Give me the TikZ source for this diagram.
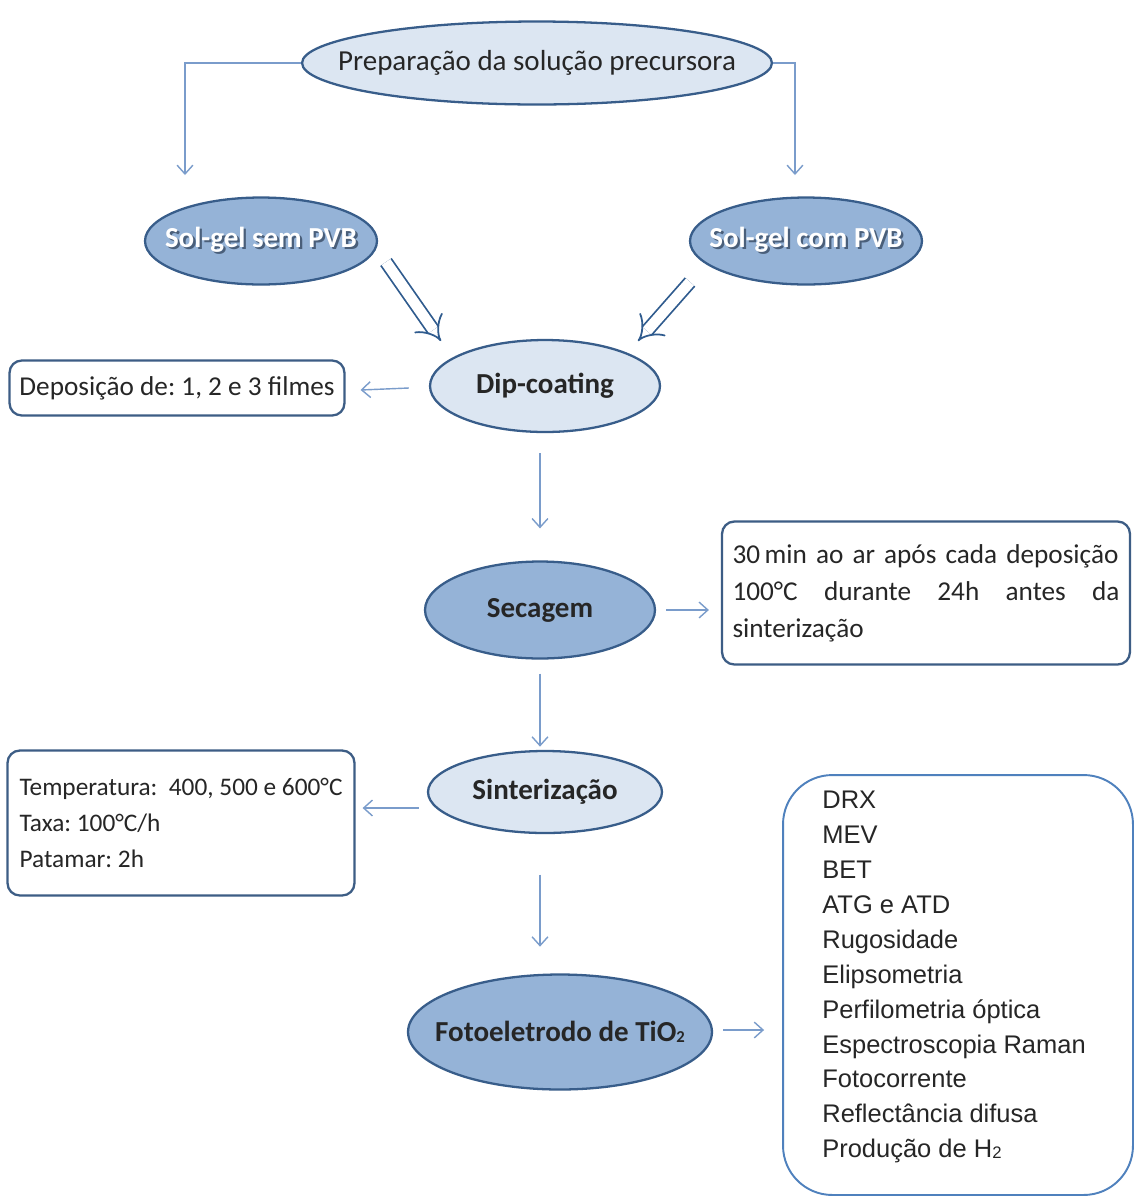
\documentclass[tikz,border=0pt]{standalone}
\usepackage{fontspec}
\setmainfont{Carlito}
\newfontfamily\arialf{Liberation Sans}
\usetikzlibrary{arrows.meta,shapes.geometric,calc}
\definecolor{darkfill}{HTML}{95B3D7}
\definecolor{lightfill}{HTML}{DCE6F2}
\definecolor{ellborder}{HTML}{385D8A}
\definecolor{arrowc}{HTML}{7A9CCB}
\definecolor{boxborder}{HTML}{3D5D85}
\definecolor{bigborder}{HTML}{4F81BD}
\definecolor{dblc}{HTML}{2F5B8E}
\definecolor{txt}{HTML}{262626}
\definecolor{shadowc}{HTML}{4A5F7A}
\newcommand\shtext[1]{\makebox[0pt][l]{\hspace{1.3pt}\raisebox{-1.3pt}{\color{shadowc}#1}}#1}
\newcommand\lowtwo{\raisebox{-0.5pt}{\fontsize{9.5}{9.5}\selectfont 2}}
\begin{document}
\begin{tikzpicture}[x=0.02cm,y=-0.02cm,
  every node/.append style={execute at begin node=\frenchspacing},
  ell/.style={ellipse, draw=ellborder, line width=1.3pt, inner sep=0pt, text=txt},
  lightell/.style={ell, fill=lightfill},
  darkell/.style={ell, fill=darkfill},
  bigfont/.style={font=\fontsize{16.5}{19}\selectfont\bfseries},
  infobox/.style={rectangle, rounded corners=7pt, draw=boxborder, line width=1.3pt, fill=white, inner sep=0pt, text=txt},
  thinarrow/.style={draw=arrowc, line width=0.8pt, -{Straight Barb[length=5pt,width=9pt]}},
  dblarrow/.style={draw=dblc, line width=1pt, double=white, double distance=6pt, -{Implies[length=8pt]}},
]
\frenchspacing
\path[use as bounding box, fill=white] (0,0) rectangle (1138,1198);

% main nodes
\node[lightell, minimum width=9.4cm, minimum height=1.66cm, font=\fontsize{16.5}{20}\selectfont] (prep) at (537,63) {\makebox[0pt]{Preparação da solução precursora}};
\node[darkell, minimum width=4.64cm, minimum height=1.74cm, bigfont, text=white] (sem) at (261,241) {\makebox[0pt]{\shtext{Sol-gel sem PVB}}};
\node[darkell, minimum width=4.64cm, minimum height=1.74cm, bigfont, text=white] (com) at (806,241) {\makebox[0pt]{\shtext{Sol-gel com PVB}}};
\node[lightell, minimum width=4.6cm, minimum height=1.84cm, bigfont] (dip) at (545,386) {\makebox[0pt]{Dip-coating}};
\node[darkell, minimum width=4.6cm, minimum height=1.94cm, bigfont] (sec) at (540,610) {\makebox[0pt]{Secagem}};
\node[lightell, minimum width=4.68cm, minimum height=1.64cm, bigfont] (sint) at (545,792) {\makebox[0pt]{Sinterização}};
\node[darkell, minimum width=6.08cm, minimum height=2.3cm, bigfont] (foto) at (560,1032) {\makebox[0pt]{Fotoeletrodo de TiO\lowtwo}};

% info boxes
\node[infobox, minimum width=6.7cm, minimum height=1.1cm, align=left, font=\fontsize{15.5}{18}\selectfont] (dep) at (177,388) {Deposição de: 1, 2 e 3 filmes};
\node[infobox, minimum width=8.16cm, minimum height=2.86cm, text width=7.74cm, align=left, font=\fontsize{15.5}{21}\selectfont] (secinfo) at (926,593) {30\,min ao ar após cada deposição\\100°C\hfill durante\hfill 24h\hfill antes\hfill da\\sinterização};
\node[infobox, minimum width=6.94cm, minimum height=2.9cm, align=left, font=\fontsize{14.4}{20.4}\selectfont] (sintinfo) at (181,823) {Temperatura:\ \ 400, 500 e 600°C\\Taxa: 100°C/h\\Patamar: 2h};
\node[rectangle, rounded corners=28pt, draw=bigborder, line width=1.1pt, fill=white, minimum width=7cm, minimum height=8.4cm] (carac) at (958,985) {};
\node[anchor=north west, inner sep=0pt, align=left, text=txt, font=\arialf\fontsize{14.5}{19.85}\selectfont] (caractext) at (822,791) {DRX\\MEV\\BET\\ATG e ATD\\Rugosidade\\Elipsometria\\Perfilometria óptica\\Espectroscopia Raman\\Fotocorrente\\Reflectância difusa\\Produção de H\lowtwo};

% free ends
\coordinate (l1) at (185,175);
\coordinate (r1) at (795,175);
\coordinate (d1s) at (386,262);
\coordinate (d1e) at (441,341);
\coordinate (d2s) at (690,282);
\coordinate (d2e) at (638,341);

% connectors
\draw[thinarrow] (prep.west) -| (l1);
\draw[thinarrow] (prep.east) -| (r1);
\draw[dblarrow] (d1s) -- (d1e);
\draw[dblarrow] (d2s) -- (d2e);
\draw[thinarrow] ($(dip.west)+(-20,2)$) -- ($(dep.east)+(15,2)$);
\draw[thinarrow] ($(sec.north)+(0,-107)$) -- ($(sec.north)+(0,-32)$);
\draw[thinarrow] ($(sec.east)+(10,0)$) -- ($(secinfo.west)+(-12,17)$);
\draw[thinarrow] ($(sec.south)+(0,14)$) -- ($(sec.south)+(0,87)$);
\draw[thinarrow] ($(sint.west)+(-8,16)$) -- ($(sintinfo.east)+(7,-15)$);
\draw[thinarrow] ($(sec.south)+(0,215)$) -- ($(sec.south)+(0,287)$);
\draw[thinarrow] ($(foto.east)+(10,-2)$) -- ($(carac.west)+(-18,45)$);
\end{tikzpicture}
\end{document}
